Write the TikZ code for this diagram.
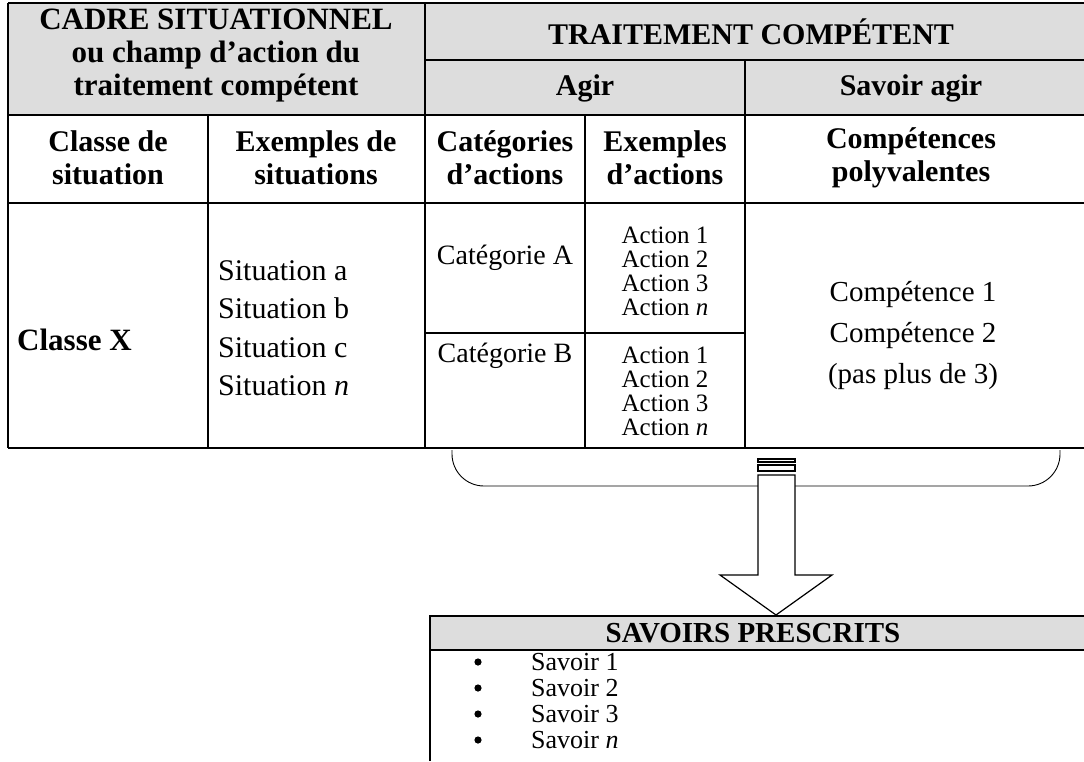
\documentclass[tikz,border=0pt]{standalone}
\usepackage{fontspec}
\setmainfont{Liberation Serif}
\usepackage{tikz}
\usetikzlibrary{calc}
\definecolor{entete}{RGB}{221,221,221}
\tikzset{
  trait/.style={line width=1.6pt},
  titre/.style={font=\fontsize{30}{33}\selectfont\bfseries, align=center, inner sep=0pt},
  texte/.style={font=\fontsize{29}{32}\selectfont, inner sep=0pt},
  petit/.style={font=\fontsize{25}{24}\selectfont, align=center, inner sep=0pt},
  liste/.style={font=\fontsize{26}{26}\selectfont, inner sep=0pt, anchor=west},
}
\newcommand\hligne[3]{
  \draw[trait] (#1,#3) -- (#2,#3);
}
\newcommand\vligne[3]{
  \draw[trait] (#1,#2) -- (#1,#3);
}
\newcommand\actions[2]{
  \node[petit, anchor=north] (#1) at (665,#2) {Action 1\\Action 2\\Action 3\\Action \textit{n}};
}
\newcommand\savoir[3]{
  \fill (478,#2) circle (3.6pt);
  \node[liste] (savoir#1) at (531,#2) {Savoir #3};
}
\begin{document}
\begin{tikzpicture}[x=1pt,y=-1pt]
  \useasboundingbox (0,0) rectangle (1084,761);
  \fill[entete] (8,3) rectangle (1084,115);
  \fill[entete] (430,616) rectangle (1084,650);

  \hligne{8}{1084}{3}
  \hligne{425}{1084}{60}
  \hligne{8}{1084}{115}
  \hligne{8}{1084}{203}
  \hligne{425}{745}{333}
  \hligne{8}{1084}{448}
  \vligne{8}{3}{448}
  \vligne{425}{3}{448}
  \vligne{745}{60}{448}
  \vligne{208}{115}{448}
  \vligne{585}{115}{448}

  \node[titre, font=\fontsize{31}{33}\selectfont\bfseries] (cadre) at (216,56) {CADRE SITUATIONNEL\\ou champ d'action du\\traitement compétent};
  \node[titre] (traitement) at (751,32) {TRAITEMENT COMPÉTENT};
  \node[titre] (agir) at (585,88) {Agir};
  \node[titre] (savoiragir) at (911,88) {Savoir agir};
  \node[titre] (classe) at (108,158) {Classe de\\situation};
  \node[titre] (exsit) at (316,158) {Exemples de\\situations};
  \node[titre] (categ) at (505,158) {Catégories\\d'actions};
  \node[titre] (exact) at (665,158) {Exemples\\d'actions};
  \node[titre] (comp) at (911,158) {Compétences\\polyvalentes};

  \node[titre, anchor=west, font=\fontsize{31}{33}\selectfont\bfseries] (classex) at (17,340) {Classe X};
  \node[texte, anchor=west, align=left, font=\fontsize{30}{38.5}\selectfont] (situations) at (218,328)
    {Situation a\\Situation b\\Situation c\\Situation \textit{n}};
  \node[texte, font=\fontsize{28}{32}\selectfont] (catA) at (505,258) {Catégorie A};
  \node[texte, font=\fontsize{28}{32}\selectfont] (catB) at (505,356) {Catégorie B};
  \actions{actA}{227}
  \actions{actB}{347}
  \node[texte, align=center, font=\fontsize{29}{41}\selectfont] (competences) at (913,335)
    {Compétence 1\\Compétence 2\\(pas plus de 3)};

  \coordinate (accG) at (452,450);
  \coordinate (accD) at (1060,450);
  \draw[line width=0.9pt, rounded corners=32pt] (accG) -- (452,486) -- (1060,486) -- (accD);
  \draw[line width=1.2pt, fill=white] (758,475) -- (758,575) -- (720,575) -- (776,615)
    -- (832,575) -- (795,575) -- (795,475) -- cycle;
  \draw[line width=1.2pt, fill=white] (758,465) rectangle (795,471);
  \draw[line width=1.2pt, fill=white] (758,459) rectangle (795,462);

  \draw[trait] (430,761) -- (430,616) -- (1084,616);
  \hligne{430}{1084}{650}
  \node[titre, font=\fontsize{29}{33}\selectfont\bfseries] (prescrits) at (753,633) {SAVOIRS PRESCRITS};
  \savoir{1}{662}{1}
  \savoir{2}{688}{2}
  \savoir{3}{714}{3}
  \savoir{4}{740}{\textit{n}}
\end{tikzpicture}
\end{document}
